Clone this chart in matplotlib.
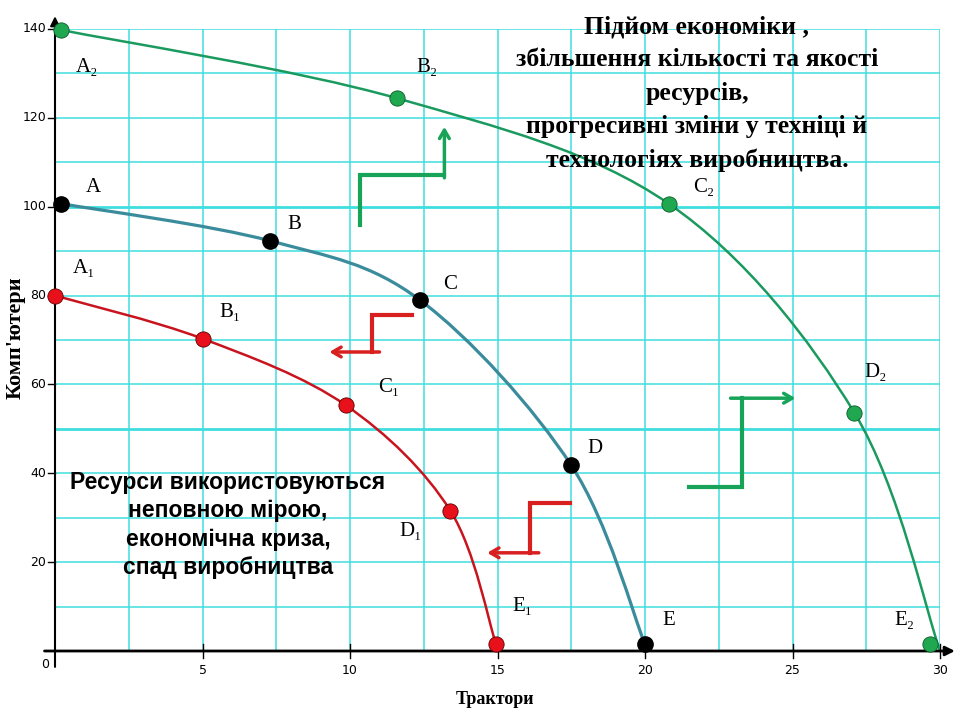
import numpy as np
import matplotlib.pyplot as plt
from matplotlib.path import Path
from matplotlib.patches import PathPatch

# curve points (tractors, computers)
red_x = [0.0, 5.0, 9.86, 13.4, 14.95]
red_y = [80.0, 70.3, 55.3, 31.6, 1.5]
red_labels = ['A₁', 'B₁', 'C₁', 'D₁', 'E₁']

blk_x = [0.2, 7.3, 12.37, 17.5, 20.0]
blk_y = [100.7, 92.3, 79.0, 41.8, 1.5]
blk_labels = ['A', 'B', 'C', 'D', 'E']

grn_x = [0.2, 11.6, 20.8, 27.1, 29.66]
grn_y = [139.8, 124.4, 100.7, 53.6, 1.5]
grn_curve_x = [0.2, 11.6, 20.8, 27.1, 30.0]
grn_curve_y = [139.8, 124.4, 100.7, 53.6, 0.0]
grn_labels = ['A₂', 'B₂', 'C₂', 'D₂', 'E₂']

# label positions
red_lx = [1.0, 5.93, 11.3, 12.07, 15.86]
red_ly = [86.2, 76.1, 59.2, 26.8, 10.1]
blk_lx = [1.29, 8.1, 13.4, 18.3, 20.8]
blk_ly = [104.4, 96.1, 82.6, 45.5, 6.8]
grn_lx = [1.08, 12.6, 22.0, 27.8, 28.8]
grn_ly = [131.4, 131.4, 104.4, 62.6, 6.8]

x_ticks = [5, 10, 15, 20, 25, 30]
y_ticks = [20, 40, 60, 80, 100, 120, 140]

title_txt = ("Підйом економіки ,\nзбільшення кількості та якості\nресурсів,\n"
             "прогресивні зміни у техніці й\nтехнологіях виробництва.")
crisis_txt = "Ресурси використовуються\nнеповною мірою,\nекономічна криза,\nспад виробництва"

SERIF = ['Liberation Serif', 'DejaVu Serif']
NARROW = ['Liberation Sans Narrow', 'DejaVu Sans']

fig = plt.figure(figsize=(9.6, 7.2), dpi=100)
ax = fig.add_axes([55/960, 1-651/720, 885/960, 622/720])
ax.set_xlim(0, 30)
ax.set_ylim(0, 140)
for s in ax.spines.values():
    s.set_visible(False)
ax.set_xticks([])
ax.set_yticks([])

# grid
cyan = '#3fdede'
for gx in np.arange(2.5, 30.01, 2.5):
    ax.axvline(gx, color=cyan, lw=1.1, zorder=0)
for gy in np.arange(10, 140.01, 10):
    ax.axhline(gy, color=cyan, lw=2.0 if gy in (50, 100) else 1.1, zorder=0)

# axes with arrows
ax.annotate('', xy=(0, 1.025), xytext=(0, -0.03), xycoords='axes fraction',
            arrowprops=dict(arrowstyle='-|>', color='black', lw=1.5, mutation_scale=14))
ax.annotate('', xy=(1.02, 0), xytext=(-0.015, 0), xycoords='axes fraction',
            arrowprops=dict(arrowstyle='-|>', color='black', lw=2, mutation_scale=14))

for t in x_ticks:
    ax.plot([t, t], [-1.5, 1.5], color='black', lw=1, clip_on=False)
    ax.text(t, -3, str(t), ha='center', va='top', fontsize=9, family=NARROW)
for t in y_ticks:
    ax.plot([-0.25, 0], [t, t], color='black', lw=1, clip_on=False)
    ax.text(-0.3, t, str(t), ha='right', va='center', fontsize=9, family=NARROW)
ax.text(-0.2, -1.5, '0', ha='right', va='top', fontsize=9, family=NARROW)


def smooth(xs, ys):
    p = np.column_stack([xs, ys])
    verts = [p[0]]
    codes = [Path.MOVETO]
    n = len(p)
    for i in range(n - 1):
        p0 = p[i - 1] if i > 0 else p[i]
        p3 = p[i + 2] if i + 2 < n else p[i + 1]
        c1 = p[i] + (p[i + 1] - p0) / 6
        c2 = p[i + 1] - (p3 - p[i]) / 6
        verts += [c1, c2, p[i + 1]]
        codes += [Path.CURVE4] * 3
    return Path(verts, codes)


ax.add_patch(PathPatch(smooth(red_x, red_y), fill=False, ec='#c8141e', lw=1.8, zorder=2))
ax.add_patch(PathPatch(smooth(blk_x, blk_y), fill=False, ec='#3a8c9c', lw=2.3, zorder=2))
ax.add_patch(PathPatch(smooth(grn_curve_x, grn_curve_y), fill=False, ec='#1a9a5e', lw=1.8, zorder=2))

ax.plot(red_x, red_y, 'o', ms=11, mfc='#e8101a', mec='#600000', mew=0.6, clip_on=False, zorder=4)
ax.plot(blk_x, blk_y, 'o', ms=11, mfc='black', mec='black', clip_on=False, zorder=4)
ax.plot(grn_x, grn_y, 'o', ms=11, mfc='#20a850', mec='#0c5a2a', mew=0.6, clip_on=False, zorder=4)

for labs, lx, ly in [(red_labels, red_lx, red_ly), (blk_labels, blk_lx, blk_ly),
                     (grn_labels, grn_lx, grn_ly)]:
    for lab, x, y in zip(labs, lx, ly):
        ax.text(x, y, lab, ha='center', va='center', fontsize=15, family=SERIF)

# step arrows
g = '#18a458'
r = '#d82020'
steps = [
    ([10.34, 10.34, 13.2], [95.9, 107.1, 107.1], (13.2, 118.0), (13.2, 106.5), g),
    ([21.5, 23.3, 23.3], [36.9, 36.9, 56.9], (25.1, 56.9), (22.9, 56.9), g),
    ([12.1, 10.75, 10.75], [75.6, 75.6, 67.3], (9.3, 67.3), (11.0, 67.3), r),
    ([17.46, 16.1, 16.1], [33.3, 33.3, 22.1], (14.65, 22.1), (16.4, 22.1), r),
]
for xs, ys, tip, tail, c in steps:
    ax.plot(xs, ys, color=c, lw=3, solid_joinstyle='miter', zorder=3)
    ax.annotate('', xy=tip, xytext=tail,
                arrowprops=dict(arrowstyle='->,head_length=0.6,head_width=0.35',
                                color=c, lw=2.5, shrinkA=0, shrinkB=0), zorder=3)

fig.text(697/960, 1-15/720, title_txt, ha='center', va='top', fontsize=18.5,
         fontweight='bold', family=SERIF, linespacing=1.57)
fig.text(228/960, 1-471/720, crisis_txt, ha='center', va='top', fontsize=16.5,
         fontweight='bold', family=['Liberation Sans', 'DejaVu Sans'], linespacing=1.3)

fig.text(495/960, 1-700/720, 'Трактори', ha='center', va='center', fontsize=13,
         fontweight='bold', family=SERIF)
fig.text(16/960, 1-338/720, "Комп'ютери", ha='center', va='center', fontsize=16,
         fontweight='bold', family=SERIF, rotation=90)

fig.savefig('out.png', dpi=100)
